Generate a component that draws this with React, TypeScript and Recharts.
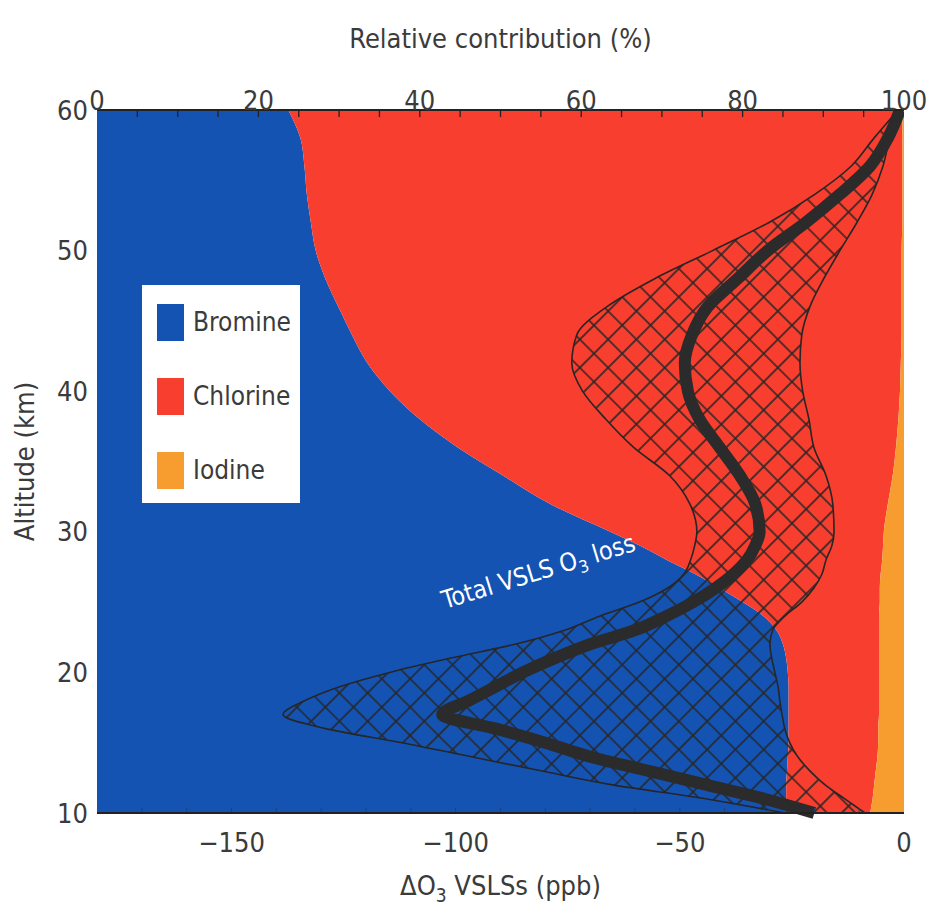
import React from "react";
import { ComposedChart, Area, Line, XAxis, YAxis, Legend, ReferenceDot, ReferenceLine } from "recharts";

// altitude grid (km), shared by every series
const altitudes = [10, 11, 12, 13, 14, 15, 16, 17, 18, 19, 20, 21, 22, 23, 24, 25, 26, 27, 28, 29, 30, 32, 34, 36, 38, 40, 42, 44, 46, 48, 50, 52, 54, 56, 58, 60];

// relative contribution (%)
const bromine = [85.3, 85.4, 85.4, 85.5, 85.6, 85.7, 85.7, 85.7, 85.7, 85.7, 85.6, 85.4, 85.0, 84.2, 82.6, 80.0, 77.1, 74.1, 70.6, 67.3, 63.6, 56.1, 50.3, 44.7, 40.0, 36.3, 33.5, 31.6, 29.9, 28.3, 27.1, 26.5, 26.0, 25.7, 25.2, 23.7];
const chlorine = [10.5, 10.7, 10.9, 11.0, 11.1, 11.1, 11.1, 11.2, 11.2, 11.2, 11.3, 11.5, 11.9, 12.7, 14.3, 17.0, 19.9, 23.0, 26.7, 30.1, 33.9, 41.9, 48.3, 54.3, 59.3, 63.2, 66.1, 68.1, 69.8, 71.4, 72.6, 73.3, 73.8, 74.1, 74.6, 76.1];
const iodine = [4.2, 3.9, 3.7, 3.5, 3.3, 3.2, 3.2, 3.1, 3.1, 3.1, 3.1, 3.1, 3.1, 3.1, 3.1, 3.0, 3.0, 2.9, 2.7, 2.6, 2.5, 2.0, 1.4, 1.0, 0.7, 0.5, 0.4, 0.3, 0.3, 0.3, 0.3, 0.2, 0.2, 0.2, 0.2, 0.2];

// total VSLS O3 change (ppb) and its range
const o3Loss = [-20, -31, -44, -57, -70, -80, -91, -103, -97, -91, -85, -78, -70, -60, -53, -47, -42, -38, -35, -33.2, -32.2, -33.2, -36.6, -41.1, -45.6, -48.2, -48.9, -47.3, -43.8, -37.1, -30.4, -21.9, -14.3, -7.6, -3.6, -0.9];
const o3LossLow = [-26.6, -44, -65, -81, -96.5, -112, -129, -138.5, -133.6, -125.7, -114.7, -101.3, -86.8, -75.7, -67.9, -59.0, -52.7, -49.1, -47.6, -46.7, -46.2, -47.8, -52.3, -60.3, -66.5, -71.7, -74.1, -73.0, -66.3, -55.6, -42.7, -30.1, -19.9, -11.8, -6.7, -1.3];
const o3LossHigh = [-8.7, -13.2, -17.6, -21.0, -23.7, -25.5, -26.6, -27.2, -27.7, -28.1, -28.8, -29.5, -29.9, -29.3, -26.6, -22.8, -20.1, -18.3, -17.4, -16.1, -15.6, -15.9, -17.4, -20.1, -21.2, -22.6, -23.2, -22.8, -21.0, -17.9, -14.3, -10.5, -7.1, -4.7, -3.1, -0.4];

// labelled ticks
const pctTicks = [0, 20, 40, 60, 80, 100];
const ppbTicks = [-150, -100, -50, 0];
const altTicks = [10, 20, 30, 40, 50, 60];
// small inward tick marks
const pctMinorTicks = [5, 10, 15, 20, 25, 30, 35, 40, 45, 50, 55, 60, 65, 70, 75, 80, 85, 90, 95];
const ppbMinorTicks = [-170, -160, -150, -140, -130, -120, -110, -100, -90, -80, -70, -60, -50, -40, -30, -20, -10];

const seriesNames = ["Bromine", "Chlorine", "Iodine"];
const seriesColors = ["#1553b3", "#f83e2e", "#f79d2f"];

const FONT = "'Liberation Sans Narrow', 'DejaVu Sans Condensed', 'Open Sans', sans-serif";
const TEXT = "#3b3b3b";

const data = altitudes.map((alt, i) => ({
  alt,
  bromine: bromine[i],
  chlorine: chlorine[i],
  iodine: iodine[i],
  loss: o3Loss[i],
  range: [o3LossLow[i], o3LossHigh[i]],
}));

const tickStyle = { fontSize: 27, fill: TEXT, fontFamily: FONT };

const fmtPpb = (v: number) => (v < 0 ? `\u2212${Math.abs(v)}` : `${v}`);

const TopTitle = (props: any) => {
  const { x, y, width } = props.viewBox;
  return (
    <text x={x + width / 2} y={y - 22} textAnchor="middle" fontSize={27} fill={TEXT} fontFamily={FONT}>
      Relative contribution (%)
    </text>
  );
};

const BottomTitle = (props: any) => {
  const { x, y, width, height } = props.viewBox;
  return (
    <text x={x + width / 2} y={y + height + 42} textAnchor="middle" fontSize={27} fill={TEXT} fontFamily={FONT}>
      ΔO
      <tspan dy={7} fontSize={19}>3</tspan>
      <tspan dy={-7}> VSLSs (ppb)</tspan>
    </text>
  );
};

const LeftTitle = (props: any) => {
  const { y, height } = props.viewBox;
  const cy = y + height / 2;
  return (
    <text x={34} y={cy} transform={`rotate(-90 34 ${cy})`} textAnchor="middle" fontSize={27} fill={TEXT} fontFamily={FONT}>
      Altitude (km)
    </text>
  );
};

const Annotation = (props: any) => {
  const { x, y, width, height } = props.viewBox;
  const cx = x + width / 2;
  const cy = y + height / 2;
  return (
    <text x={cx} y={cy} transform={`rotate(-17 ${cx} ${cy})`} textAnchor="middle" fontSize={25} fill="#ffffff" fontFamily={FONT}>
      Total VSLS O
      <tspan dy={6} fontSize={17}>3</tspan>
      <tspan dy={-6}> loss</tspan>
    </text>
  );
};

const LegendBox = () => (
  <div style={{ background: "#fff", width: 158, height: 218, fontFamily: FONT }}>
    {seriesNames.map((name, i) => (
      <div key={name} style={{ display: "flex", alignItems: "center", height: 74, paddingLeft: 15 }}>
        <span style={{ width: 27, height: 37, background: seriesColors[i], marginRight: 9 }} />
        <span style={{ fontSize: 26, color: TEXT }}>{name}</span>
      </div>
    ))}
  </div>
);

export default function App() {
  return (
    <div style={{ position: "absolute", left: 0, top: 0, width: 929, height: 920, background: "#fff" }}>
      <ComposedChart
        width={929}
        height={920}
        data={data}
        layout="vertical"
        margin={{ top: 70, right: 25, bottom: 67, left: 37 }}
      >
        <defs>
          <pattern id="hatch" width="20" height="20" patternUnits="userSpaceOnUse" patternTransform="rotate(45)">
            <path d="M10 0 V20 M0 10 H20" stroke="#262626" strokeWidth={1.6} />
          </pattern>
        </defs>
        <XAxis
          xAxisId="pct"
          type="number"
          orientation="top"
          domain={[0, 100]}
          ticks={pctTicks}
          height={40}
          tickSize={0}
          tickMargin={0}
          tickLine={false}
          axisLine={{ stroke: "#222", strokeWidth: 2 }}
          tick={tickStyle}
          label={TopTitle}
        />
        <XAxis
          xAxisId="ppb"
          type="number"
          orientation="bottom"
          domain={[-180, 0]}
          allowDataOverflow
          ticks={ppbTicks}
          height={40}
          tickSize={0}
          tickMargin={20}
          tickLine={false}
          axisLine={{ stroke: "#222", strokeWidth: 2 }}
          tick={tickStyle}
          tickFormatter={fmtPpb}
          label={BottomTitle}
        />
        <YAxis
          type="number"
          dataKey="alt"
          domain={[10, 60]}
          reversed
          ticks={altTicks}
          width={60}
          tickSize={0}
          tickMargin={9}
          tickLine={false}
          axisLine={false}
          tick={tickStyle}
          label={LeftTitle}
        />
        <Area xAxisId="pct" stackId="c" dataKey="bromine" type="monotone" fill={seriesColors[0]} fillOpacity={1} stroke="none" isAnimationActive={false} />
        <Area xAxisId="pct" stackId="c" dataKey="chlorine" type="monotone" fill={seriesColors[1]} fillOpacity={1} stroke="none" isAnimationActive={false} />
        <Area xAxisId="pct" stackId="c" dataKey="iodine" type="monotone" fill={seriesColors[2]} fillOpacity={1} stroke="none" isAnimationActive={false} />
        <Area xAxisId="ppb" dataKey="range" type="monotone" fill="url(#hatch)" fillOpacity={1} stroke="#262626" strokeWidth={1.6} isAnimationActive={false} activeDot={false} />
        <Line xAxisId="ppb" dataKey="loss" type="monotone" stroke="#2b2b2b" strokeWidth={12} dot={false} activeDot={false} isAnimationActive={false} />
        {pctMinorTicks.map((t) => (
          <ReferenceLine
            key={`pt${t}`}
            xAxisId="pct"
            segment={[{ x: t, y: 60 }, { x: t, y: 59.5 }]}
            stroke="#222"
            strokeWidth={1.3}
          />
        ))}
        {ppbMinorTicks.map((t) => (
          <ReferenceLine
            key={`bt${t}`}
            xAxisId="ppb"
            segment={[{ x: t, y: 10 }, { x: t, y: 10.35 }]}
            stroke="#1d3f80"
            strokeWidth={1}
          />
        ))}
        <ReferenceDot xAxisId="ppb" x={-81} y={26.6} r={0} fill="none" stroke="none" label={Annotation} />
        <Legend
          layout="vertical"
          align="center"
          verticalAlign="middle"
          content={LegendBox}
          wrapperStyle={{ left: 142, top: 285, width: 158, height: 218 }}
        />
      </ComposedChart>
    </div>
  );
}
